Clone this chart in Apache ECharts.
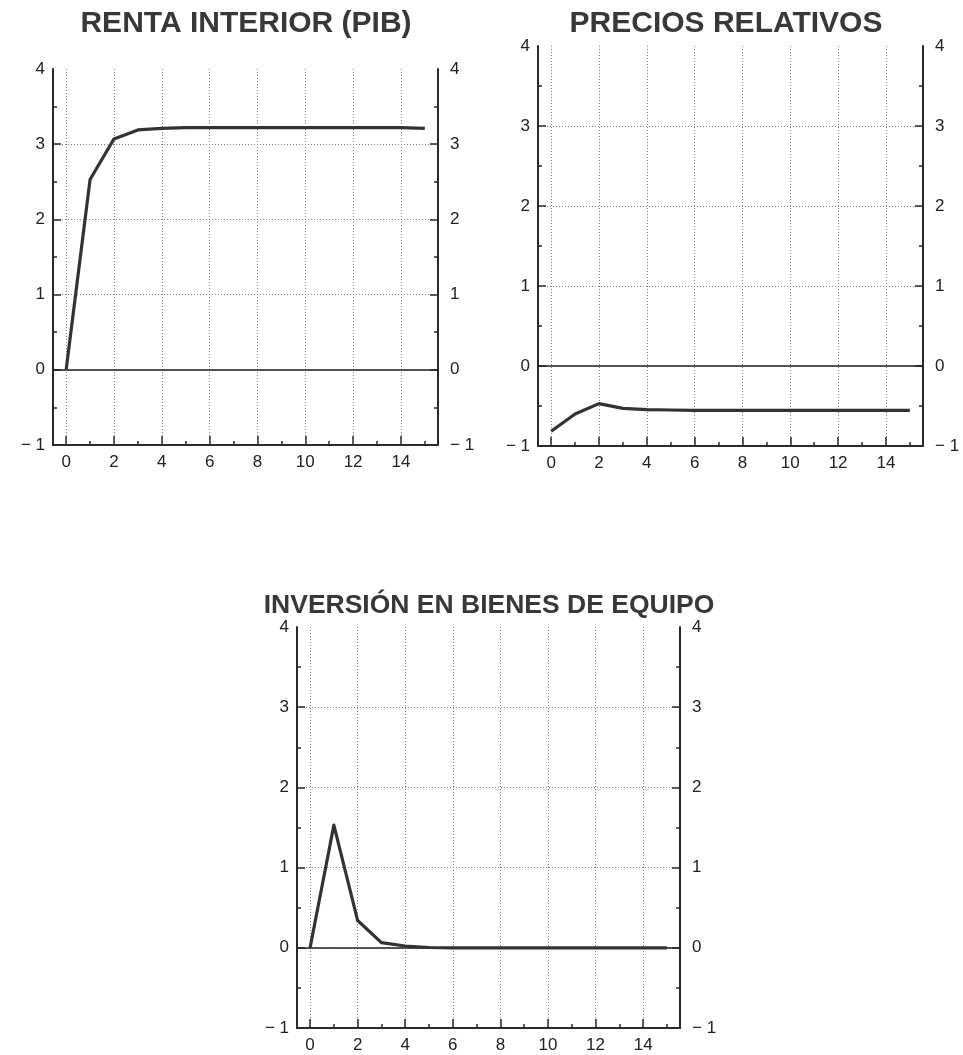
<!DOCTYPE html>
<html>
<head>
<meta charset="utf-8">
<script src="https://cdn.jsdelivr.net/npm/echarts@6/dist/echarts.min.js"></script>
<style>
  html, body { margin: 0; padding: 0; background: #ffffff; }
  #chart { width: 963px; height: 1055px; }
</style>
</head>
<body>
<div id="chart"></div>
<script>
// ---- data ----
const periods = [0, 1, 2, 3, 4, 5, 6, 7, 8, 9, 10, 11, 12, 13, 14, 15];
const rentaInterior = [0, 2.53, 3.07, 3.19, 3.21, 3.22, 3.22, 3.22, 3.22, 3.22, 3.22, 3.22, 3.22, 3.22, 3.22, 3.21];
const preciosRelativos = [-0.815, -0.60, -0.47, -0.53, -0.545, -0.55, -0.555, -0.555, -0.555, -0.555, -0.555, -0.555, -0.555, -0.555, -0.555, -0.555];
const inversionEquipo = [0, 1.53, 0.34, 0.065, 0.022, 0.004, 0, 0, 0, 0, 0, 0, 0, 0, 0, 0];
const panelTitles = ['RENTA INTERIOR (PIB)', 'PRECIOS RELATIVOS', 'INVERSIÓN EN BIENES DE EQUIPO'];
const xMajorTicks = [0, 2, 4, 6, 8, 10, 12, 14];
const xMinorTicks = [1, 3, 5, 7, 9, 11, 13, 15];
const yGridTicks = [-1, 0, 1, 2, 3];
const yLabelValues = [-1, 0, 1, 2, 3, 4];

const seriesValues = [rentaInterior, preciosRelativos, inversionEquipo];

// ---- layout ----
const panels = [
  { left: 53,  top: 69,  width: 385, height: 376, titleX: 246, titleY: 9,   titleSize: 30 },
  { left: 538, top: 46,  width: 385, height: 400, titleX: 726, titleY: 9,   titleSize: 30 },
  { left: 297, top: 627, width: 383, height: 401, titleX: 489, titleY: 592, titleSize: 26.5 }
];

const FONT = '"Liberation Sans", Arial, sans-serif';
const AXIS_COLOR = '#2a2a2a';
const yFmt = v => (v === -1 ? '\u2212 1' : String(v));

const grid = [], xAxis = [], yAxis = [], series = [], title = [];

panels.forEach((p, i) => {
  grid.push({ left: p.left, top: p.top, width: p.width, height: p.height, containLabel: false });
  title.push({
    text: panelTitles[i], left: p.titleX, top: p.titleY, textAlign: 'center', padding: 0,
    textStyle: { fontFamily: FONT, fontWeight: 'bold', fontSize: p.titleSize, color: '#383838' }
  });
  // main x axis: even ticks, labels, vertical dotted grid
  xAxis.push({
    type: 'value', gridIndex: i, position: 'bottom', min: -0.55, max: 15.55,
    axisLine: { show: true, onZero: false, lineStyle: { color: AXIS_COLOR, width: 2 } },
    axisTick: { show: true, inside: true, length: 9, customValues: xMajorTicks, lineStyle: { color: AXIS_COLOR, width: 1.5 } },
    axisLabel: { show: true, customValues: xMajorTicks, margin: 9, fontFamily: FONT, fontSize: 17, color: '#222' },
    splitLine: { show: true, lineStyle: { type: [1, 2], color: '#808080', width: 1 } },
    minorTick: { show: false }
  });
  // secondary x axis: odd (minor) ticks
  xAxis.push({
    type: 'value', gridIndex: i, position: 'bottom', min: -0.55, max: 15.55,
    axisLine: { show: false, onZero: false },
    axisTick: { show: true, inside: true, length: 4, customValues: xMinorTicks, lineStyle: { color: AXIS_COLOR, width: 1.5 } },
    axisLabel: { show: false },
    splitLine: { show: false }
  });
  // left y axis
  yAxis.push({
    type: 'value', gridIndex: i, position: 'left', min: -1, max: 4, interval: 1,
    axisLine: { show: true, onZero: false, lineStyle: { color: AXIS_COLOR, width: 2 } },
    axisTick: { show: true, inside: true, length: 8, customValues: yGridTicks, lineStyle: { color: AXIS_COLOR, width: 1.5 } },
    minorTick: { show: true, splitNumber: 2, length: 4, lineStyle: { color: AXIS_COLOR, width: 1.5 } },
    axisLabel: { show: true, customValues: yLabelValues, margin: 8, fontFamily: FONT, fontSize: 17, color: '#222', formatter: yFmt },
    splitLine: { show: true, lineStyle: { type: [1, 2], color: '#808080', width: 1 } }
  });
  // right y axis
  yAxis.push({
    type: 'value', gridIndex: i, position: 'right', min: -1, max: 4, interval: 1,
    axisLine: { show: true, onZero: false, lineStyle: { color: AXIS_COLOR, width: 2 } },
    axisTick: { show: true, inside: true, length: 8, customValues: yGridTicks, lineStyle: { color: AXIS_COLOR, width: 1.5 } },
    minorTick: { show: true, splitNumber: 2, length: 4, lineStyle: { color: AXIS_COLOR, width: 1.5 } },
    axisLabel: { show: true, customValues: yLabelValues, margin: 12, fontFamily: FONT, fontSize: 17, color: '#222', formatter: yFmt },
    splitLine: { show: false }
  });
  series.push({
    type: 'line', xAxisIndex: 2 * i, yAxisIndex: 2 * i,
    data: periods.map((t, k) => [t, seriesValues[i][k]]),
    symbol: 'none', showSymbol: false, smooth: false, z: 5,
    lineStyle: { width: 3.2, color: '#333333', join: 'round' },
    markLine: {
      silent: true, symbol: 'none', animation: false, z: 3,
      label: { show: false },
      lineStyle: { type: 'solid', color: '#222', width: 1.5 },
      data: [{ yAxis: 0 }]
    }
  });
});

const chart = echarts.init(document.getElementById('chart'), null, { renderer: 'canvas' });
chart.setOption({
  animation: false,
  backgroundColor: '#ffffff',
  title, grid, xAxis, yAxis, series
});
</script>
</body>
</html>
